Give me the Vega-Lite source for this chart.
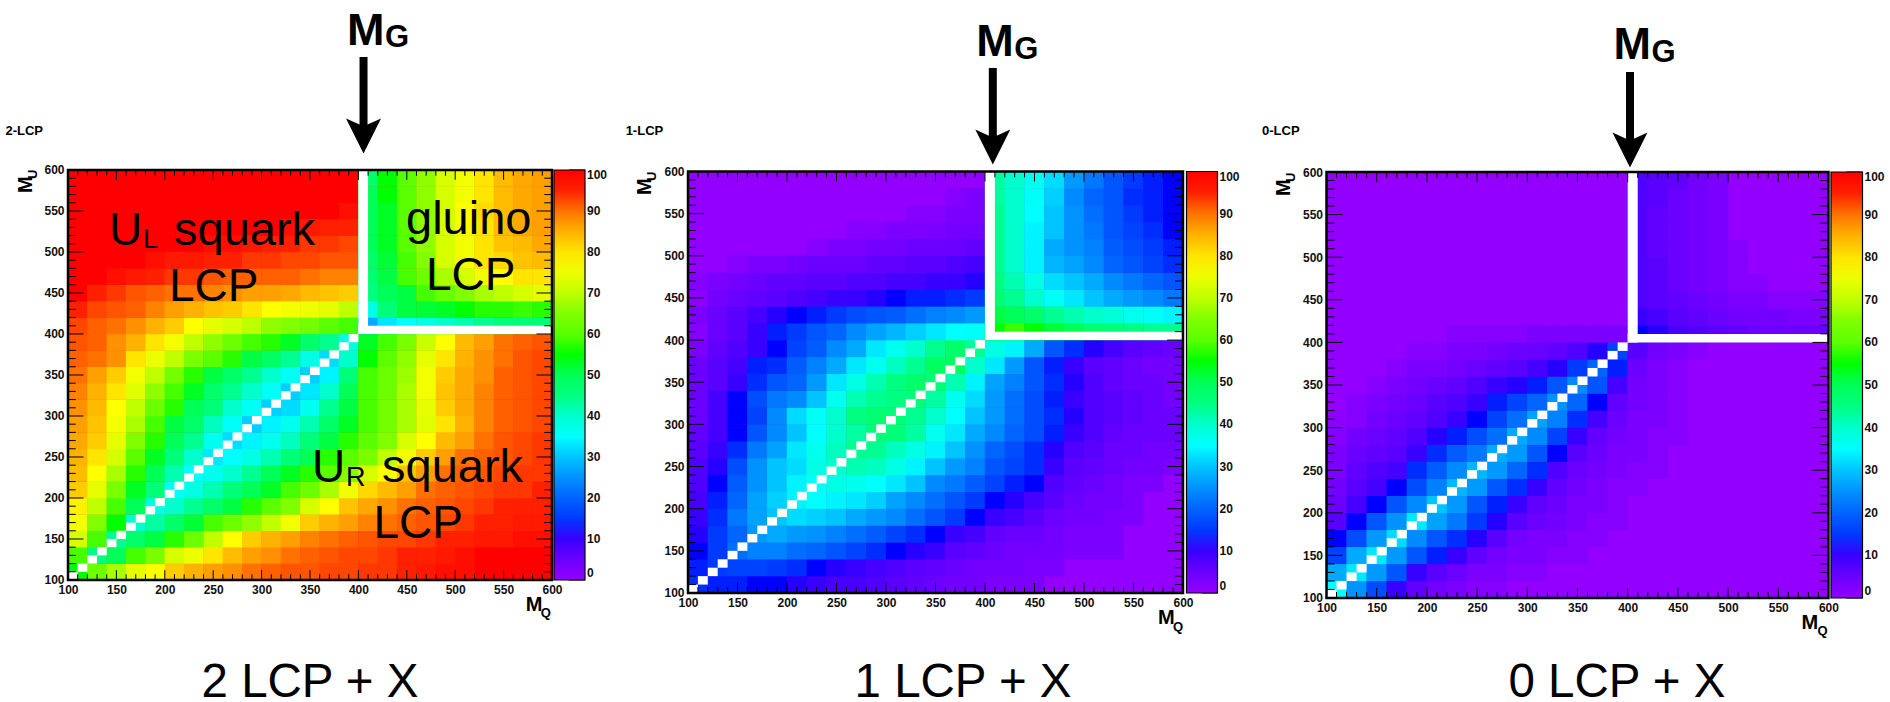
{"$schema":"https://vega.github.io/schema/vega-lite/v6.json","padding":0,"spacing":0,"background":"white",
"config":{"view":{"stroke":null},"text":{"font":"Liberation Sans","align":"left","baseline":"alphabetic","color":"black"},"axis":{"domain":false,"ticks":false,"grid":false,"labelFont":"Liberation Sans","labelFontWeight":"bold","labelFontSize":12,"labelColor":"#111","labelPadding":4,"labelOverlap":false,"labelFlush":false,"title":null},"legend":{"gradientStrokeColor":"black","gradientStrokeWidth":1.2,"labelFont":"Liberation Sans","labelFontWeight":"bold","labelFontSize":12,"labelColor":"#111","labelOverlap":false,"labelOffset":4,"title":null,"direction":"vertical","type":"gradient"}},
"resolve":{"scale":{"color":"independent"}},
"datasets":{
"ma":[100,150,200,250,300,350,400,450,500,550,600],
"mi":[110,120,130,140,160,170,180,190,210,220,230,240,260,270,280,290,310,320,330,340,360,370,380,390,410,420,430,440,460,470,480,490,510,520,530,540,560,570,580,590],
"diag":[{"q":105,"u":105},{"q":115,"u":115},{"q":125,"u":125},{"q":135,"u":135},{"q":145,"u":145},{"q":155,"u":155},{"q":165,"u":165},{"q":175,"u":175},{"q":185,"u":185},{"q":195,"u":195},{"q":205,"u":205},{"q":215,"u":215},{"q":225,"u":225},{"q":235,"u":235},{"q":245,"u":245},{"q":255,"u":255},{"q":265,"u":265},{"q":275,"u":275},{"q":285,"u":285},{"q":295,"u":295},{"q":305,"u":305},{"q":315,"u":315},{"q":325,"u":325},{"q":335,"u":335},{"q":345,"u":345},{"q":355,"u":355},{"q":365,"u":365},{"q":375,"u":375},{"q":385,"u":385},{"q":395,"u":395}],
"p1":[
{"q":110,"u":110,"v":55},{"q":130,"u":110,"v":62},{"q":150,"u":110,"v":68},{"q":170,"u":110,"v":74},{"q":190,"u":110,"v":78},{"q":210,"u":110,"v":82},{"q":230,"u":110,"v":85},{"q":250,"u":110,"v":87},{"q":270,"u":110,"v":88},{"q":290,"u":110,"v":90},{"q":310,"u":110,"v":91},{"q":330,"u":110,"v":92},{"q":350,"u":110,"v":92},{"q":370,"u":110,"v":93},{"q":390,"u":110,"v":93},{"q":410,"u":110,"v":94},{"q":430,"u":110,"v":94},{"q":450,"u":110,"v":95},{"q":470,"u":110,"v":96},{"q":490,"u":110,"v":97},{"q":510,"u":110,"v":97},
{"q":110,"u":130,"v":58},{"q":130,"u":130,"v":45},{"q":150,"u":130,"v":50},{"q":170,"u":130,"v":58},{"q":190,"u":130,"v":64},{"q":210,"u":130,"v":72},{"q":230,"u":130,"v":75},{"q":250,"u":130,"v":80},{"q":270,"u":130,"v":84},{"q":290,"u":130,"v":87},{"q":310,"u":130,"v":88},{"q":330,"u":130,"v":90},{"q":350,"u":130,"v":91},{"q":370,"u":130,"v":92},{"q":390,"u":130,"v":93},{"q":410,"u":130,"v":93},{"q":430,"u":130,"v":94},{"q":450,"u":130,"v":95},{"q":470,"u":130,"v":95},{"q":490,"u":130,"v":96},{"q":510,"u":130,"v":97},
{"q":110,"u":150,"v":72},{"q":130,"u":150,"v":58},{"q":150,"u":150,"v":44},{"q":170,"u":150,"v":48},{"q":190,"u":150,"v":52},{"q":210,"u":150,"v":56},{"q":230,"u":150,"v":62},{"q":250,"u":150,"v":70},{"q":270,"u":150,"v":78},{"q":290,"u":150,"v":82},{"q":310,"u":150,"v":85},{"q":330,"u":150,"v":87},{"q":350,"u":150,"v":89},{"q":370,"u":150,"v":90},{"q":390,"u":150,"v":91},{"q":410,"u":150,"v":92},{"q":430,"u":150,"v":93},{"q":450,"u":150,"v":93},{"q":470,"u":150,"v":94},{"q":490,"u":150,"v":95},{"q":510,"u":150,"v":95},{"q":530,"u":150,"v":96},{"q":550,"u":150,"v":96},{"q":570,"u":150,"v":97},{"q":590,"u":150,"v":97},
{"q":110,"u":170,"v":76},{"q":130,"u":170,"v":65},{"q":150,"u":170,"v":55},{"q":170,"u":170,"v":40},{"q":190,"u":170,"v":43},{"q":210,"u":170,"v":48},{"q":230,"u":170,"v":53},{"q":250,"u":170,"v":58},{"q":270,"u":170,"v":62},{"q":290,"u":170,"v":66},{"q":310,"u":170,"v":70},{"q":330,"u":170,"v":76},{"q":350,"u":170,"v":82},{"q":370,"u":170,"v":85},{"q":390,"u":170,"v":87},{"q":410,"u":170,"v":89},{"q":430,"u":170,"v":90},{"q":450,"u":170,"v":91},{"q":470,"u":170,"v":92},{"q":490,"u":170,"v":93},{"q":510,"u":170,"v":94},{"q":530,"u":170,"v":95},{"q":550,"u":170,"v":95},{"q":570,"u":170,"v":96},{"q":590,"u":170,"v":96},
{"q":110,"u":190,"v":79},{"q":130,"u":190,"v":70},{"q":150,"u":190,"v":58},{"q":170,"u":190,"v":50},{"q":190,"u":190,"v":38},{"q":210,"u":190,"v":40},{"q":230,"u":190,"v":44},{"q":250,"u":190,"v":48},{"q":270,"u":190,"v":52},{"q":290,"u":190,"v":56},{"q":310,"u":190,"v":60},{"q":330,"u":190,"v":65},{"q":350,"u":190,"v":72},{"q":370,"u":190,"v":78},{"q":390,"u":190,"v":83},{"q":410,"u":190,"v":86},{"q":430,"u":190,"v":88},{"q":450,"u":190,"v":90},{"q":470,"u":190,"v":91},{"q":490,"u":190,"v":92},{"q":510,"u":190,"v":93},{"q":530,"u":190,"v":94},{"q":550,"u":190,"v":95},{"q":570,"u":190,"v":95},{"q":590,"u":190,"v":95},
{"q":110,"u":210,"v":82},{"q":130,"u":210,"v":74},{"q":150,"u":210,"v":64},{"q":170,"u":210,"v":54},{"q":190,"u":210,"v":46},{"q":210,"u":210,"v":36},{"q":230,"u":210,"v":38},{"q":250,"u":210,"v":42},{"q":270,"u":210,"v":46},{"q":290,"u":210,"v":50},{"q":310,"u":210,"v":54},{"q":330,"u":210,"v":58},{"q":350,"u":210,"v":62},{"q":370,"u":210,"v":68},{"q":390,"u":210,"v":76},{"q":410,"u":210,"v":81},{"q":430,"u":210,"v":84},{"q":450,"u":210,"v":87},{"q":470,"u":210,"v":90},{"q":490,"u":210,"v":91},{"q":510,"u":210,"v":92},{"q":530,"u":210,"v":93},{"q":550,"u":210,"v":94},{"q":570,"u":210,"v":94},{"q":590,"u":210,"v":95},
{"q":110,"u":230,"v":84},{"q":130,"u":230,"v":78},{"q":150,"u":230,"v":68},{"q":170,"u":230,"v":56},{"q":190,"u":230,"v":50},{"q":210,"u":230,"v":42},{"q":230,"u":230,"v":35},{"q":250,"u":230,"v":37},{"q":270,"u":230,"v":40},{"q":290,"u":230,"v":44},{"q":310,"u":230,"v":50},{"q":330,"u":230,"v":54},{"q":350,"u":230,"v":56},{"q":370,"u":230,"v":60},{"q":390,"u":230,"v":65},{"q":410,"u":230,"v":72},{"q":430,"u":230,"v":78},{"q":450,"u":230,"v":83},{"q":470,"u":230,"v":87},{"q":490,"u":230,"v":90},{"q":510,"u":230,"v":91},{"q":530,"u":230,"v":92},{"q":550,"u":230,"v":93},{"q":570,"u":230,"v":94},{"q":590,"u":230,"v":94},
{"q":110,"u":250,"v":85},{"q":130,"u":250,"v":80},{"q":150,"u":250,"v":72},{"q":170,"u":250,"v":60},{"q":190,"u":250,"v":54},{"q":210,"u":250,"v":46},{"q":230,"u":250,"v":40},{"q":250,"u":250,"v":33},{"q":270,"u":250,"v":35},{"q":290,"u":250,"v":38},{"q":310,"u":250,"v":42},{"q":330,"u":250,"v":46},{"q":350,"u":250,"v":50},{"q":370,"u":250,"v":56},{"q":390,"u":250,"v":60},{"q":410,"u":250,"v":64},{"q":430,"u":250,"v":70},{"q":450,"u":250,"v":76},{"q":470,"u":250,"v":82},{"q":490,"u":250,"v":87},{"q":510,"u":250,"v":90},{"q":530,"u":250,"v":91},{"q":550,"u":250,"v":92},{"q":570,"u":250,"v":93},{"q":590,"u":250,"v":94},
{"q":110,"u":270,"v":86},{"q":130,"u":270,"v":82},{"q":150,"u":270,"v":74},{"q":170,"u":270,"v":65},{"q":190,"u":270,"v":56},{"q":210,"u":270,"v":50},{"q":230,"u":270,"v":44},{"q":250,"u":270,"v":37},{"q":270,"u":270,"v":32},{"q":290,"u":270,"v":34},{"q":310,"u":270,"v":37},{"q":330,"u":270,"v":41},{"q":350,"u":270,"v":46},{"q":370,"u":270,"v":52},{"q":390,"u":270,"v":56},{"q":410,"u":270,"v":60},{"q":430,"u":270,"v":65},{"q":450,"u":270,"v":72},{"q":470,"u":270,"v":78},{"q":490,"u":270,"v":84},{"q":510,"u":270,"v":87},{"q":530,"u":270,"v":90},{"q":550,"u":270,"v":92},{"q":570,"u":270,"v":93},{"q":590,"u":270,"v":94},
{"q":110,"u":290,"v":87},{"q":130,"u":290,"v":83},{"q":150,"u":290,"v":76},{"q":170,"u":290,"v":68},{"q":190,"u":290,"v":58},{"q":210,"u":290,"v":52},{"q":230,"u":290,"v":48},{"q":250,"u":290,"v":41},{"q":270,"u":290,"v":36},{"q":290,"u":290,"v":31},{"q":310,"u":290,"v":34},{"q":330,"u":290,"v":37},{"q":350,"u":290,"v":42},{"q":370,"u":290,"v":48},{"q":390,"u":290,"v":54},{"q":410,"u":290,"v":58},{"q":430,"u":290,"v":63},{"q":450,"u":290,"v":68},{"q":470,"u":290,"v":73},{"q":490,"u":290,"v":80},{"q":510,"u":290,"v":85},{"q":530,"u":290,"v":89},{"q":550,"u":290,"v":91},{"q":570,"u":290,"v":92},{"q":590,"u":290,"v":93},
{"q":110,"u":310,"v":88},{"q":130,"u":310,"v":84},{"q":150,"u":310,"v":78},{"q":170,"u":310,"v":70},{"q":190,"u":310,"v":62},{"q":210,"u":310,"v":56},{"q":230,"u":310,"v":50},{"q":250,"u":310,"v":46},{"q":270,"u":310,"v":40},{"q":290,"u":310,"v":36},{"q":310,"u":310,"v":31},{"q":330,"u":310,"v":32},{"q":350,"u":310,"v":37},{"q":370,"u":310,"v":44},{"q":390,"u":310,"v":52},{"q":410,"u":310,"v":58},{"q":430,"u":310,"v":63},{"q":450,"u":310,"v":68},{"q":470,"u":310,"v":74},{"q":490,"u":310,"v":82},{"q":510,"u":310,"v":86},{"q":530,"u":310,"v":89},{"q":550,"u":310,"v":91},{"q":570,"u":310,"v":92},{"q":590,"u":310,"v":93},
{"q":110,"u":330,"v":89},{"q":130,"u":330,"v":85},{"q":150,"u":330,"v":80},{"q":170,"u":330,"v":73},{"q":190,"u":330,"v":66},{"q":210,"u":330,"v":58},{"q":230,"u":330,"v":54},{"q":250,"u":330,"v":48},{"q":270,"u":330,"v":44},{"q":290,"u":330,"v":40},{"q":310,"u":330,"v":36},{"q":330,"u":330,"v":31},{"q":350,"u":330,"v":33},{"q":370,"u":330,"v":40},{"q":390,"u":330,"v":50},{"q":410,"u":330,"v":58},{"q":430,"u":330,"v":62},{"q":450,"u":330,"v":68},{"q":470,"u":330,"v":76},{"q":490,"u":330,"v":83},{"q":510,"u":330,"v":86},{"q":530,"u":330,"v":89},{"q":550,"u":330,"v":91},{"q":570,"u":330,"v":92},{"q":590,"u":330,"v":93},
{"q":110,"u":350,"v":90},{"q":130,"u":350,"v":87},{"q":150,"u":350,"v":82},{"q":170,"u":350,"v":76},{"q":190,"u":350,"v":70},{"q":210,"u":350,"v":63},{"q":230,"u":350,"v":56},{"q":250,"u":350,"v":52},{"q":270,"u":350,"v":48},{"q":290,"u":350,"v":44},{"q":310,"u":350,"v":40},{"q":330,"u":350,"v":36},{"q":350,"u":350,"v":31},{"q":370,"u":350,"v":34},{"q":390,"u":350,"v":46},{"q":410,"u":350,"v":58},{"q":430,"u":350,"v":62},{"q":450,"u":350,"v":67},{"q":470,"u":350,"v":76},{"q":490,"u":350,"v":82},{"q":510,"u":350,"v":86},{"q":530,"u":350,"v":88},{"q":550,"u":350,"v":91},{"q":570,"u":350,"v":92},{"q":590,"u":350,"v":93},
{"q":110,"u":370,"v":91},{"q":130,"u":370,"v":90},{"q":150,"u":370,"v":88},{"q":170,"u":370,"v":80},{"q":190,"u":370,"v":75},{"q":210,"u":370,"v":70},{"q":230,"u":370,"v":64},{"q":250,"u":370,"v":60},{"q":270,"u":370,"v":56},{"q":290,"u":370,"v":52},{"q":310,"u":370,"v":49},{"q":330,"u":370,"v":44},{"q":350,"u":370,"v":38},{"q":370,"u":370,"v":32},{"q":390,"u":370,"v":40},{"q":410,"u":370,"v":55},{"q":430,"u":370,"v":60},{"q":450,"u":370,"v":66},{"q":470,"u":370,"v":74},{"q":490,"u":370,"v":80},{"q":510,"u":370,"v":85},{"q":530,"u":370,"v":88},{"q":550,"u":370,"v":90},{"q":570,"u":370,"v":92},{"q":590,"u":370,"v":93},
{"q":110,"u":390,"v":92},{"q":130,"u":390,"v":91},{"q":150,"u":390,"v":88},{"q":170,"u":390,"v":85},{"q":190,"u":390,"v":80},{"q":210,"u":390,"v":76},{"q":230,"u":390,"v":70},{"q":250,"u":390,"v":66},{"q":270,"u":390,"v":62},{"q":290,"u":390,"v":58},{"q":310,"u":390,"v":56},{"q":330,"u":390,"v":54},{"q":350,"u":390,"v":48},{"q":370,"u":390,"v":44},{"q":390,"u":390,"v":38},{"q":410,"u":390,"v":54},{"q":430,"u":390,"v":58},{"q":450,"u":390,"v":64},{"q":470,"u":390,"v":71},{"q":490,"u":390,"v":78},{"q":510,"u":390,"v":84},{"q":530,"u":390,"v":87},{"q":550,"u":390,"v":90},{"q":570,"u":390,"v":91},{"q":590,"u":390,"v":92},
{"q":110,"u":410,"v":93},{"q":130,"u":410,"v":91},{"q":150,"u":410,"v":90},{"q":170,"u":410,"v":88},{"q":190,"u":410,"v":85},{"q":210,"u":410,"v":82},{"q":230,"u":410,"v":78},{"q":250,"u":410,"v":74},{"q":270,"u":410,"v":72},{"q":290,"u":410,"v":70},{"q":310,"u":410,"v":66},{"q":330,"u":410,"v":65},{"q":350,"u":410,"v":63},{"q":370,"u":410,"v":60},{"q":390,"u":410,"v":58},{"q":410,"u":410,"v":28},{"q":430,"u":410,"v":33},{"q":450,"u":410,"v":35},{"q":470,"u":410,"v":38},{"q":490,"u":410,"v":40},{"q":510,"u":410,"v":42},{"q":530,"u":410,"v":44},{"q":550,"u":410,"v":46},{"q":570,"u":410,"v":46},{"q":590,"u":410,"v":46},
{"q":110,"u":430,"v":95},{"q":130,"u":430,"v":93},{"q":150,"u":430,"v":92},{"q":170,"u":430,"v":91},{"q":190,"u":430,"v":89},{"q":210,"u":430,"v":87},{"q":230,"u":430,"v":85},{"q":250,"u":430,"v":83},{"q":270,"u":430,"v":82},{"q":290,"u":430,"v":80},{"q":310,"u":430,"v":78},{"q":330,"u":430,"v":76},{"q":350,"u":430,"v":75},{"q":370,"u":430,"v":74},{"q":390,"u":430,"v":70},{"q":410,"u":430,"v":38},{"q":430,"u":430,"v":46},{"q":450,"u":430,"v":52},{"q":470,"u":430,"v":53},{"q":490,"u":430,"v":54},{"q":510,"u":430,"v":55},{"q":530,"u":430,"v":56},{"q":550,"u":430,"v":56},{"q":570,"u":430,"v":57},{"q":590,"u":430,"v":56},
{"q":110,"u":450,"v":98},{"q":130,"u":450,"v":95},{"q":150,"u":450,"v":94},{"q":170,"u":450,"v":92},{"q":190,"u":450,"v":91},{"q":210,"u":450,"v":90},{"q":230,"u":450,"v":90},{"q":250,"u":450,"v":89},{"q":270,"u":450,"v":88},{"q":290,"u":450,"v":87},{"q":310,"u":450,"v":87},{"q":330,"u":450,"v":86},{"q":350,"u":450,"v":84},{"q":370,"u":450,"v":83},{"q":390,"u":450,"v":82},{"q":410,"u":450,"v":45},{"q":430,"u":450,"v":50},{"q":450,"u":450,"v":52},{"q":470,"u":450,"v":58},{"q":490,"u":450,"v":62},{"q":510,"u":450,"v":65},{"q":530,"u":450,"v":68},{"q":550,"u":450,"v":70},{"q":570,"u":450,"v":72},{"q":590,"u":450,"v":74},
{"q":130,"u":470,"v":98},{"q":150,"u":470,"v":97},{"q":170,"u":470,"v":96},{"q":190,"u":470,"v":95},{"q":210,"u":470,"v":94},{"q":230,"u":470,"v":94},{"q":250,"u":470,"v":92},{"q":270,"u":470,"v":91},{"q":290,"u":470,"v":91},{"q":310,"u":470,"v":91},{"q":330,"u":470,"v":91},{"q":350,"u":470,"v":90},{"q":370,"u":470,"v":89},{"q":390,"u":470,"v":89},{"q":410,"u":470,"v":47},{"q":430,"u":470,"v":52},{"q":450,"u":470,"v":58},{"q":470,"u":470,"v":62},{"q":490,"u":470,"v":68},{"q":510,"u":470,"v":72},{"q":530,"u":470,"v":76},{"q":550,"u":470,"v":78},{"q":570,"u":470,"v":80},{"q":590,"u":470,"v":80},
{"q":170,"u":490,"v":98},{"q":190,"u":490,"v":97},{"q":210,"u":490,"v":96},{"q":230,"u":490,"v":96},{"q":250,"u":490,"v":95},{"q":270,"u":490,"v":95},{"q":290,"u":490,"v":94},{"q":310,"u":490,"v":94},{"q":330,"u":490,"v":93},{"q":350,"u":490,"v":93},{"q":370,"u":490,"v":92},{"q":390,"u":490,"v":92},{"q":410,"u":490,"v":48},{"q":430,"u":490,"v":53},{"q":450,"u":490,"v":58},{"q":470,"u":490,"v":65},{"q":490,"u":490,"v":72},{"q":510,"u":490,"v":76},{"q":530,"u":490,"v":80},{"q":550,"u":490,"v":81},{"q":570,"u":490,"v":83},{"q":590,"u":490,"v":84},
{"q":230,"u":510,"v":98},{"q":250,"u":510,"v":97},{"q":270,"u":510,"v":97},{"q":290,"u":510,"v":96},{"q":310,"u":510,"v":95},{"q":330,"u":510,"v":95},{"q":350,"u":510,"v":94},{"q":370,"u":510,"v":94},{"q":390,"u":510,"v":93},{"q":410,"u":510,"v":50},{"q":430,"u":510,"v":54},{"q":450,"u":510,"v":60},{"q":470,"u":510,"v":66},{"q":490,"u":510,"v":72},{"q":510,"u":510,"v":76},{"q":530,"u":510,"v":80},{"q":550,"u":510,"v":83},{"q":570,"u":510,"v":84},{"q":590,"u":510,"v":86},
{"q":310,"u":530,"v":98},{"q":330,"u":530,"v":97},{"q":350,"u":530,"v":96},{"q":370,"u":530,"v":95},{"q":390,"u":530,"v":95},{"q":410,"u":530,"v":50},{"q":430,"u":530,"v":54},{"q":450,"u":530,"v":60},{"q":470,"u":530,"v":66},{"q":490,"u":530,"v":72},{"q":510,"u":530,"v":77},{"q":530,"u":530,"v":80},{"q":550,"u":530,"v":84},{"q":570,"u":530,"v":86},{"q":590,"u":530,"v":87},
{"q":370,"u":550,"v":98},{"q":390,"u":550,"v":97},{"q":410,"u":550,"v":50},{"q":430,"u":550,"v":54},{"q":450,"u":550,"v":60},{"q":470,"u":550,"v":66},{"q":490,"u":550,"v":72},{"q":510,"u":550,"v":78},{"q":530,"u":550,"v":81},{"q":550,"u":550,"v":84},{"q":570,"u":550,"v":86},{"q":590,"u":550,"v":87},
{"q":390,"u":570,"v":98},{"q":410,"u":570,"v":50},{"q":430,"u":570,"v":55},{"q":450,"u":570,"v":60},{"q":470,"u":570,"v":66},{"q":490,"u":570,"v":72},{"q":510,"u":570,"v":76},{"q":530,"u":570,"v":80},{"q":550,"u":570,"v":84},{"q":570,"u":570,"v":86},{"q":590,"u":570,"v":87},
{"q":410,"u":590,"v":48},{"q":430,"u":590,"v":55},{"q":450,"u":590,"v":60},{"q":470,"u":590,"v":66},{"q":490,"u":590,"v":72},{"q":510,"u":590,"v":76},{"q":530,"u":590,"v":80},{"q":550,"u":590,"v":84},{"q":570,"u":590,"v":86},{"q":590,"u":590,"v":87}],
"p2":[
{"q":110,"u":110,"v":14},{"q":130,"u":110,"v":13},{"q":150,"u":110,"v":13},{"q":170,"u":110,"v":12},{"q":190,"u":110,"v":12},{"q":210,"u":110,"v":11},{"q":230,"u":110,"v":10},{"q":250,"u":110,"v":9},{"q":270,"u":110,"v":9},{"q":290,"u":110,"v":8},{"q":310,"u":110,"v":7},{"q":330,"u":110,"v":6},{"q":350,"u":110,"v":5},{"q":370,"u":110,"v":4},{"q":390,"u":110,"v":4},{"q":410,"u":110,"v":3},{"q":430,"u":110,"v":3},{"q":450,"u":110,"v":3},
{"q":110,"u":130,"v":13},{"q":130,"u":130,"v":15},{"q":150,"u":130,"v":16},{"q":170,"u":130,"v":16},{"q":190,"u":130,"v":15},{"q":210,"u":130,"v":14},{"q":230,"u":130,"v":12},{"q":250,"u":130,"v":11},{"q":270,"u":130,"v":10},{"q":290,"u":130,"v":9},{"q":310,"u":130,"v":8},{"q":330,"u":130,"v":7},{"q":350,"u":130,"v":6},{"q":370,"u":130,"v":5},{"q":390,"u":130,"v":4},{"q":410,"u":130,"v":4},{"q":430,"u":130,"v":4},{"q":450,"u":130,"v":3},{"q":470,"u":130,"v":3},
{"q":110,"u":150,"v":12},{"q":130,"u":150,"v":15},{"q":150,"u":150,"v":21},{"q":170,"u":150,"v":23},{"q":190,"u":150,"v":23},{"q":210,"u":150,"v":21},{"q":230,"u":150,"v":20},{"q":250,"u":150,"v":18},{"q":270,"u":150,"v":16},{"q":290,"u":150,"v":14},{"q":310,"u":150,"v":12},{"q":330,"u":150,"v":11},{"q":350,"u":150,"v":10},{"q":370,"u":150,"v":7},{"q":390,"u":150,"v":6},{"q":410,"u":150,"v":5},{"q":430,"u":150,"v":4},{"q":450,"u":150,"v":4},{"q":470,"u":150,"v":4},{"q":490,"u":150,"v":3},{"q":510,"u":150,"v":3},{"q":530,"u":150,"v":3},
{"q":110,"u":170,"v":11},{"q":130,"u":170,"v":15},{"q":150,"u":170,"v":20},{"q":170,"u":170,"v":26},{"q":190,"u":170,"v":28},{"q":210,"u":170,"v":26},{"q":230,"u":170,"v":25},{"q":250,"u":170,"v":23},{"q":270,"u":170,"v":21},{"q":290,"u":170,"v":19},{"q":310,"u":170,"v":16},{"q":330,"u":170,"v":14},{"q":350,"u":170,"v":12},{"q":370,"u":170,"v":10},{"q":390,"u":170,"v":9},{"q":410,"u":170,"v":6},{"q":430,"u":170,"v":5},{"q":450,"u":170,"v":5},{"q":470,"u":170,"v":4},{"q":490,"u":170,"v":3},{"q":510,"u":170,"v":3},{"q":530,"u":170,"v":3},
{"q":110,"u":190,"v":10},{"q":130,"u":190,"v":14},{"q":150,"u":190,"v":22},{"q":170,"u":190,"v":27},{"q":190,"u":190,"v":30},{"q":210,"u":190,"v":32},{"q":230,"u":190,"v":31},{"q":250,"u":190,"v":30},{"q":270,"u":190,"v":28},{"q":290,"u":190,"v":26},{"q":310,"u":190,"v":24},{"q":330,"u":190,"v":21},{"q":350,"u":190,"v":18},{"q":370,"u":190,"v":15},{"q":390,"u":190,"v":12},{"q":410,"u":190,"v":10},{"q":430,"u":190,"v":9},{"q":450,"u":190,"v":7},{"q":470,"u":190,"v":5},{"q":490,"u":190,"v":4},{"q":510,"u":190,"v":4},{"q":530,"u":190,"v":3},{"q":550,"u":190,"v":3},
{"q":110,"u":210,"v":9},{"q":130,"u":210,"v":13},{"q":150,"u":210,"v":20},{"q":170,"u":210,"v":27},{"q":190,"u":210,"v":31},{"q":210,"u":210,"v":34},{"q":230,"u":210,"v":35},{"q":250,"u":210,"v":34},{"q":270,"u":210,"v":33},{"q":290,"u":210,"v":31},{"q":310,"u":210,"v":27},{"q":330,"u":210,"v":24},{"q":350,"u":210,"v":21},{"q":370,"u":210,"v":18},{"q":390,"u":210,"v":15},{"q":410,"u":210,"v":12},{"q":430,"u":210,"v":11},{"q":450,"u":210,"v":9},{"q":470,"u":210,"v":7},{"q":490,"u":210,"v":5},{"q":510,"u":210,"v":4},{"q":530,"u":210,"v":4},{"q":550,"u":210,"v":3},
{"q":110,"u":230,"v":8},{"q":130,"u":230,"v":12},{"q":150,"u":230,"v":19},{"q":170,"u":230,"v":25},{"q":190,"u":230,"v":30},{"q":210,"u":230,"v":34},{"q":230,"u":230,"v":36},{"q":250,"u":230,"v":38},{"q":270,"u":230,"v":37},{"q":290,"u":230,"v":35},{"q":310,"u":230,"v":33},{"q":330,"u":230,"v":30},{"q":350,"u":230,"v":24},{"q":370,"u":230,"v":22},{"q":390,"u":230,"v":19},{"q":410,"u":230,"v":16},{"q":430,"u":230,"v":13},{"q":450,"u":230,"v":12},{"q":470,"u":230,"v":8},{"q":490,"u":230,"v":6},{"q":510,"u":230,"v":5},{"q":530,"u":230,"v":4},{"q":550,"u":230,"v":3},{"q":570,"u":230,"v":3},
{"q":110,"u":250,"v":8},{"q":130,"u":250,"v":11},{"q":150,"u":250,"v":17},{"q":170,"u":250,"v":25},{"q":190,"u":250,"v":30},{"q":210,"u":250,"v":32},{"q":230,"u":250,"v":38},{"q":250,"u":250,"v":40},{"q":270,"u":250,"v":42},{"q":290,"u":250,"v":41},{"q":310,"u":250,"v":38},{"q":330,"u":250,"v":34},{"q":350,"u":250,"v":30},{"q":370,"u":250,"v":26},{"q":390,"u":250,"v":23},{"q":410,"u":250,"v":18},{"q":430,"u":250,"v":16},{"q":450,"u":250,"v":14},{"q":470,"u":250,"v":10},{"q":490,"u":250,"v":7},{"q":510,"u":250,"v":6},{"q":530,"u":250,"v":5},{"q":550,"u":250,"v":4},{"q":570,"u":250,"v":4},{"q":590,"u":250,"v":3},
{"q":110,"u":270,"v":7},{"q":130,"u":270,"v":10},{"q":150,"u":270,"v":14},{"q":170,"u":270,"v":22},{"q":190,"u":270,"v":27},{"q":210,"u":270,"v":33},{"q":230,"u":270,"v":37},{"q":250,"u":270,"v":41},{"q":270,"u":270,"v":44},{"q":290,"u":270,"v":44},{"q":310,"u":270,"v":41},{"q":330,"u":270,"v":38},{"q":350,"u":270,"v":34},{"q":370,"u":270,"v":30},{"q":390,"u":270,"v":25},{"q":410,"u":270,"v":20},{"q":430,"u":270,"v":17},{"q":450,"u":270,"v":14},{"q":470,"u":270,"v":11},{"q":490,"u":270,"v":8},{"q":510,"u":270,"v":7},{"q":530,"u":270,"v":5},{"q":550,"u":270,"v":5},{"q":570,"u":270,"v":4},{"q":590,"u":270,"v":4},
{"q":110,"u":290,"v":6},{"q":130,"u":290,"v":9},{"q":150,"u":290,"v":12},{"q":170,"u":290,"v":18},{"q":190,"u":290,"v":24},{"q":210,"u":290,"v":30},{"q":230,"u":290,"v":35},{"q":250,"u":290,"v":40},{"q":270,"u":290,"v":43},{"q":290,"u":290,"v":46},{"q":310,"u":290,"v":46},{"q":330,"u":290,"v":43},{"q":350,"u":290,"v":37},{"q":370,"u":290,"v":33},{"q":390,"u":290,"v":28},{"q":410,"u":290,"v":24},{"q":430,"u":290,"v":20},{"q":450,"u":290,"v":17},{"q":470,"u":290,"v":13},{"q":490,"u":290,"v":10},{"q":510,"u":290,"v":8},{"q":530,"u":290,"v":6},{"q":550,"u":290,"v":5},{"q":570,"u":290,"v":5},{"q":590,"u":290,"v":5},
{"q":110,"u":310,"v":5},{"q":130,"u":310,"v":9},{"q":150,"u":310,"v":12},{"q":170,"u":310,"v":16},{"q":190,"u":310,"v":24},{"q":210,"u":310,"v":32},{"q":230,"u":310,"v":36},{"q":250,"u":310,"v":40},{"q":270,"u":310,"v":45},{"q":290,"u":310,"v":47},{"q":310,"u":310,"v":46},{"q":330,"u":310,"v":44},{"q":350,"u":310,"v":40},{"q":370,"u":310,"v":35},{"q":390,"u":310,"v":30},{"q":410,"u":310,"v":26},{"q":430,"u":310,"v":21},{"q":450,"u":310,"v":17},{"q":470,"u":310,"v":14},{"q":490,"u":310,"v":11},{"q":510,"u":310,"v":8},{"q":530,"u":310,"v":7},{"q":550,"u":310,"v":6},{"q":570,"u":310,"v":5},{"q":590,"u":310,"v":5},
{"q":110,"u":330,"v":5},{"q":130,"u":330,"v":9},{"q":150,"u":330,"v":12},{"q":170,"u":330,"v":17},{"q":190,"u":330,"v":22},{"q":210,"u":330,"v":24},{"q":230,"u":330,"v":30},{"q":250,"u":330,"v":37},{"q":270,"u":330,"v":42},{"q":290,"u":330,"v":44},{"q":310,"u":330,"v":45},{"q":330,"u":330,"v":46},{"q":350,"u":330,"v":43},{"q":370,"u":330,"v":37},{"q":390,"u":330,"v":32},{"q":410,"u":330,"v":26},{"q":430,"u":330,"v":21},{"q":450,"u":330,"v":17},{"q":470,"u":330,"v":13},{"q":490,"u":330,"v":10},{"q":510,"u":330,"v":8},{"q":530,"u":330,"v":7},{"q":550,"u":330,"v":6},{"q":570,"u":330,"v":5},{"q":590,"u":330,"v":4},
{"q":110,"u":350,"v":5},{"q":130,"u":350,"v":7},{"q":150,"u":350,"v":10},{"q":170,"u":350,"v":14},{"q":190,"u":350,"v":18},{"q":210,"u":350,"v":20},{"q":230,"u":350,"v":26},{"q":250,"u":350,"v":33},{"q":270,"u":350,"v":38},{"q":290,"u":350,"v":42},{"q":310,"u":350,"v":45},{"q":330,"u":350,"v":48},{"q":350,"u":350,"v":46},{"q":370,"u":350,"v":42},{"q":390,"u":350,"v":34},{"q":410,"u":350,"v":27},{"q":430,"u":350,"v":23},{"q":450,"u":350,"v":18},{"q":470,"u":350,"v":14},{"q":490,"u":350,"v":11},{"q":510,"u":350,"v":8},{"q":530,"u":350,"v":6},{"q":550,"u":350,"v":5},{"q":570,"u":350,"v":5},{"q":590,"u":350,"v":4},
{"q":110,"u":370,"v":5},{"q":130,"u":370,"v":7},{"q":150,"u":370,"v":9},{"q":170,"u":370,"v":13},{"q":190,"u":370,"v":14},{"q":210,"u":370,"v":19},{"q":230,"u":370,"v":23},{"q":250,"u":370,"v":28},{"q":270,"u":370,"v":33},{"q":290,"u":370,"v":37},{"q":310,"u":370,"v":41},{"q":330,"u":370,"v":44},{"q":350,"u":370,"v":49},{"q":370,"u":370,"v":49},{"q":390,"u":370,"v":40},{"q":410,"u":370,"v":33},{"q":430,"u":370,"v":26},{"q":450,"u":370,"v":18},{"q":470,"u":370,"v":13},{"q":490,"u":370,"v":10},{"q":510,"u":370,"v":7},{"q":530,"u":370,"v":6},{"q":550,"u":370,"v":5},{"q":570,"u":370,"v":4},{"q":590,"u":370,"v":4},
{"q":110,"u":390,"v":3},{"q":130,"u":390,"v":6},{"q":150,"u":390,"v":8},{"q":170,"u":390,"v":10},{"q":190,"u":390,"v":12},{"q":210,"u":390,"v":16},{"q":230,"u":390,"v":19},{"q":250,"u":390,"v":24},{"q":270,"u":390,"v":28},{"q":290,"u":390,"v":33},{"q":310,"u":390,"v":37},{"q":330,"u":390,"v":40},{"q":350,"u":390,"v":44},{"q":370,"u":390,"v":48},{"q":390,"u":390,"v":44},{"q":410,"u":390,"v":38},{"q":430,"u":390,"v":34},{"q":450,"u":390,"v":28},{"q":470,"u":390,"v":18},{"q":490,"u":390,"v":14},{"q":510,"u":390,"v":11},{"q":530,"u":390,"v":9},{"q":550,"u":390,"v":7},{"q":570,"u":390,"v":6},{"q":590,"u":390,"v":5},
{"q":110,"u":410,"v":2},{"q":130,"u":410,"v":5},{"q":150,"u":410,"v":7},{"q":170,"u":410,"v":10},{"q":190,"u":410,"v":13},{"q":210,"u":410,"v":15},{"q":230,"u":410,"v":18},{"q":250,"u":410,"v":20},{"q":270,"u":410,"v":24},{"q":290,"u":410,"v":27},{"q":310,"u":410,"v":29},{"q":330,"u":410,"v":31},{"q":350,"u":410,"v":33},{"q":370,"u":410,"v":35},{"q":390,"u":410,"v":36},{"q":410,"u":410,"v":55},{"q":430,"u":410,"v":57},{"q":450,"u":410,"v":55},{"q":470,"u":410,"v":53},{"q":490,"u":410,"v":50},{"q":510,"u":410,"v":47},{"q":530,"u":410,"v":46},{"q":550,"u":410,"v":45},{"q":570,"u":410,"v":44},{"q":590,"u":410,"v":44},
{"q":110,"u":430,"v":3},{"q":130,"u":430,"v":5},{"q":150,"u":430,"v":7},{"q":170,"u":430,"v":9},{"q":190,"u":430,"v":11},{"q":210,"u":430,"v":12},{"q":230,"u":430,"v":13},{"q":250,"u":430,"v":15},{"q":270,"u":430,"v":17},{"q":290,"u":430,"v":18},{"q":310,"u":430,"v":19},{"q":330,"u":430,"v":21},{"q":350,"u":430,"v":23},{"q":370,"u":430,"v":24},{"q":390,"u":430,"v":26},{"q":410,"u":430,"v":52},{"q":430,"u":430,"v":50},{"q":450,"u":430,"v":48},{"q":470,"u":430,"v":44},{"q":490,"u":430,"v":42},{"q":510,"u":430,"v":40},{"q":530,"u":430,"v":39},{"q":550,"u":430,"v":37},{"q":570,"u":430,"v":36},{"q":590,"u":430,"v":34},
{"q":110,"u":450,"v":1},{"q":130,"u":450,"v":4},{"q":150,"u":450,"v":5},{"q":170,"u":450,"v":6},{"q":190,"u":450,"v":7},{"q":210,"u":450,"v":8},{"q":230,"u":450,"v":9},{"q":250,"u":450,"v":10},{"q":270,"u":450,"v":10},{"q":290,"u":450,"v":11},{"q":310,"u":450,"v":12},{"q":330,"u":450,"v":13},{"q":350,"u":450,"v":13},{"q":370,"u":450,"v":14},{"q":390,"u":450,"v":15},{"q":410,"u":450,"v":47},{"q":430,"u":450,"v":44},{"q":450,"u":450,"v":40},{"q":470,"u":450,"v":36},{"q":490,"u":450,"v":33},{"q":510,"u":450,"v":30},{"q":530,"u":450,"v":28},{"q":550,"u":450,"v":26},{"q":570,"u":450,"v":24},{"q":590,"u":450,"v":22},
{"q":110,"u":470,"v":2},{"q":130,"u":470,"v":3},{"q":150,"u":470,"v":4},{"q":170,"u":470,"v":5},{"q":190,"u":470,"v":6},{"q":210,"u":470,"v":6},{"q":230,"u":470,"v":7},{"q":250,"u":470,"v":7},{"q":270,"u":470,"v":8},{"q":290,"u":470,"v":8},{"q":310,"u":470,"v":9},{"q":330,"u":470,"v":9},{"q":350,"u":470,"v":10},{"q":370,"u":470,"v":10},{"q":390,"u":470,"v":11},{"q":410,"u":470,"v":45},{"q":430,"u":470,"v":42},{"q":450,"u":470,"v":38},{"q":470,"u":470,"v":32},{"q":490,"u":470,"v":30},{"q":510,"u":470,"v":28},{"q":530,"u":470,"v":24},{"q":550,"u":470,"v":22},{"q":570,"u":470,"v":20},{"q":590,"u":470,"v":18},
{"q":150,"u":490,"v":2},{"q":170,"u":490,"v":3},{"q":190,"u":490,"v":3},{"q":210,"u":490,"v":4},{"q":230,"u":490,"v":5},{"q":250,"u":490,"v":5},{"q":270,"u":490,"v":5},{"q":290,"u":490,"v":6},{"q":310,"u":490,"v":6},{"q":330,"u":490,"v":7},{"q":350,"u":490,"v":7},{"q":370,"u":490,"v":8},{"q":390,"u":490,"v":9},{"q":410,"u":490,"v":44},{"q":430,"u":490,"v":40},{"q":450,"u":490,"v":34},{"q":470,"u":490,"v":29},{"q":490,"u":490,"v":27},{"q":510,"u":490,"v":24},{"q":530,"u":490,"v":20},{"q":550,"u":490,"v":18},{"q":570,"u":490,"v":16},{"q":590,"u":490,"v":14},
{"q":230,"u":510,"v":2},{"q":250,"u":510,"v":3},{"q":270,"u":510,"v":3},{"q":290,"u":510,"v":4},{"q":310,"u":510,"v":4},{"q":330,"u":510,"v":5},{"q":350,"u":510,"v":5},{"q":370,"u":510,"v":5},{"q":390,"u":510,"v":6},{"q":410,"u":510,"v":44},{"q":430,"u":510,"v":40},{"q":450,"u":510,"v":34},{"q":470,"u":510,"v":28},{"q":490,"u":510,"v":25},{"q":510,"u":510,"v":23},{"q":530,"u":510,"v":19},{"q":550,"u":510,"v":17},{"q":570,"u":510,"v":15},{"q":590,"u":510,"v":13},
{"q":270,"u":530,"v":2},{"q":290,"u":530,"v":2},{"q":310,"u":530,"v":3},{"q":330,"u":530,"v":3},{"q":350,"u":530,"v":3},{"q":370,"u":530,"v":4},{"q":390,"u":530,"v":4},{"q":410,"u":530,"v":44},{"q":430,"u":530,"v":40},{"q":450,"u":530,"v":34},{"q":470,"u":530,"v":30},{"q":490,"u":530,"v":25},{"q":510,"u":530,"v":22},{"q":530,"u":530,"v":18},{"q":550,"u":530,"v":16},{"q":570,"u":530,"v":14},{"q":590,"u":530,"v":12},
{"q":330,"u":550,"v":2},{"q":350,"u":550,"v":2},{"q":370,"u":550,"v":3},{"q":390,"u":550,"v":3},{"q":410,"u":550,"v":44},{"q":430,"u":550,"v":40},{"q":450,"u":550,"v":35},{"q":470,"u":550,"v":30},{"q":490,"u":550,"v":25},{"q":510,"u":550,"v":21},{"q":530,"u":550,"v":18},{"q":550,"u":550,"v":15},{"q":570,"u":550,"v":13},{"q":590,"u":550,"v":12},
{"q":370,"u":570,"v":2},{"q":390,"u":570,"v":3},{"q":410,"u":570,"v":43},{"q":430,"u":570,"v":40},{"q":450,"u":570,"v":36},{"q":470,"u":570,"v":31},{"q":490,"u":570,"v":24},{"q":510,"u":570,"v":20},{"q":530,"u":570,"v":18},{"q":550,"u":570,"v":14},{"q":570,"u":570,"v":13},{"q":590,"u":570,"v":12},
{"q":410,"u":590,"v":43},{"q":430,"u":590,"v":40},{"q":450,"u":590,"v":37},{"q":470,"u":590,"v":32},{"q":490,"u":590,"v":26},{"q":510,"u":590,"v":22},{"q":530,"u":590,"v":18},{"q":550,"u":590,"v":15},{"q":570,"u":590,"v":13},{"q":590,"u":590,"v":12}],
"p3":[
{"q":110,"u":110,"v":35},{"q":130,"u":110,"v":25},{"q":150,"u":110,"v":17},{"q":170,"u":110,"v":10},{"q":190,"u":110,"v":6},{"q":210,"u":110,"v":4},{"q":230,"u":110,"v":3},{"q":250,"u":110,"v":2},{"q":270,"u":110,"v":2},
{"q":110,"u":130,"v":28},{"q":130,"u":130,"v":33},{"q":150,"u":130,"v":26},{"q":170,"u":130,"v":18},{"q":190,"u":130,"v":10},{"q":210,"u":130,"v":7},{"q":230,"u":130,"v":5},{"q":250,"u":130,"v":3},{"q":270,"u":130,"v":3},{"q":290,"u":130,"v":2},{"q":310,"u":130,"v":2},
{"q":110,"u":150,"v":16},{"q":130,"u":150,"v":28},{"q":150,"u":150,"v":33},{"q":170,"u":150,"v":26},{"q":190,"u":150,"v":18},{"q":210,"u":150,"v":13},{"q":230,"u":150,"v":10},{"q":250,"u":150,"v":6},{"q":270,"u":150,"v":4},{"q":290,"u":150,"v":3},{"q":310,"u":150,"v":3},{"q":330,"u":150,"v":2},{"q":350,"u":150,"v":2},
{"q":110,"u":170,"v":12},{"q":130,"u":170,"v":17},{"q":150,"u":170,"v":26},{"q":170,"u":170,"v":32},{"q":190,"u":170,"v":24},{"q":210,"u":170,"v":18},{"q":230,"u":170,"v":14},{"q":250,"u":170,"v":11},{"q":270,"u":170,"v":7},{"q":290,"u":170,"v":4},{"q":310,"u":170,"v":3},{"q":330,"u":170,"v":3},{"q":350,"u":170,"v":2},{"q":370,"u":170,"v":2},
{"q":110,"u":190,"v":7},{"q":130,"u":190,"v":12},{"q":150,"u":190,"v":18},{"q":170,"u":190,"v":25},{"q":190,"u":190,"v":33},{"q":210,"u":190,"v":27},{"q":230,"u":190,"v":22},{"q":250,"u":190,"v":15},{"q":270,"u":190,"v":11},{"q":290,"u":190,"v":7},{"q":310,"u":190,"v":5},{"q":330,"u":190,"v":4},{"q":350,"u":190,"v":3},{"q":370,"u":190,"v":2},{"q":390,"u":190,"v":2},
{"q":110,"u":210,"v":5},{"q":130,"u":210,"v":9},{"q":150,"u":210,"v":12},{"q":170,"u":210,"v":18},{"q":190,"u":210,"v":24},{"q":210,"u":210,"v":30},{"q":230,"u":210,"v":26},{"q":250,"u":210,"v":18},{"q":270,"u":210,"v":13},{"q":290,"u":210,"v":10},{"q":310,"u":210,"v":6},{"q":330,"u":210,"v":5},{"q":350,"u":210,"v":3},{"q":370,"u":210,"v":3},{"q":390,"u":210,"v":2},
{"q":110,"u":230,"v":4},{"q":130,"u":230,"v":7},{"q":150,"u":230,"v":9},{"q":170,"u":230,"v":12},{"q":190,"u":230,"v":17},{"q":210,"u":230,"v":23},{"q":230,"u":230,"v":29},{"q":250,"u":230,"v":26},{"q":270,"u":230,"v":18},{"q":290,"u":230,"v":14},{"q":310,"u":230,"v":10},{"q":330,"u":230,"v":6},{"q":350,"u":230,"v":4},{"q":370,"u":230,"v":3},{"q":390,"u":230,"v":2},{"q":410,"u":230,"v":2},
{"q":110,"u":250,"v":3},{"q":130,"u":250,"v":6},{"q":150,"u":250,"v":8},{"q":170,"u":250,"v":9},{"q":190,"u":250,"v":14},{"q":210,"u":250,"v":19},{"q":230,"u":250,"v":24},{"q":250,"u":250,"v":29},{"q":270,"u":250,"v":26},{"q":290,"u":250,"v":20},{"q":310,"u":250,"v":14},{"q":330,"u":250,"v":8},{"q":350,"u":250,"v":5},{"q":370,"u":250,"v":4},{"q":390,"u":250,"v":3},{"q":410,"u":250,"v":2},{"q":430,"u":250,"v":2},
{"q":110,"u":270,"v":3},{"q":130,"u":270,"v":5},{"q":150,"u":270,"v":6},{"q":170,"u":270,"v":7},{"q":190,"u":270,"v":10},{"q":210,"u":270,"v":14},{"q":230,"u":270,"v":19},{"q":250,"u":270,"v":22},{"q":270,"u":270,"v":28},{"q":290,"u":270,"v":26},{"q":310,"u":270,"v":18},{"q":330,"u":270,"v":12},{"q":350,"u":270,"v":7},{"q":370,"u":270,"v":5},{"q":390,"u":270,"v":3},{"q":410,"u":270,"v":3},{"q":430,"u":270,"v":2},
{"q":110,"u":290,"v":2},{"q":130,"u":290,"v":4},{"q":150,"u":290,"v":5},{"q":170,"u":290,"v":6},{"q":190,"u":290,"v":8},{"q":210,"u":290,"v":11},{"q":230,"u":290,"v":13},{"q":250,"u":290,"v":17},{"q":270,"u":290,"v":21},{"q":290,"u":290,"v":28},{"q":310,"u":290,"v":24},{"q":330,"u":290,"v":16},{"q":350,"u":290,"v":10},{"q":370,"u":290,"v":6},{"q":390,"u":290,"v":4},{"q":410,"u":290,"v":3},{"q":430,"u":290,"v":2},{"q":450,"u":290,"v":2},
{"q":110,"u":310,"v":1},{"q":130,"u":310,"v":2},{"q":150,"u":310,"v":4},{"q":170,"u":310,"v":5},{"q":190,"u":310,"v":6},{"q":210,"u":310,"v":8},{"q":230,"u":310,"v":10},{"q":250,"u":310,"v":12},{"q":270,"u":310,"v":16},{"q":290,"u":310,"v":21},{"q":310,"u":310,"v":27},{"q":330,"u":310,"v":23},{"q":350,"u":310,"v":14},{"q":370,"u":310,"v":9},{"q":390,"u":310,"v":5},{"q":410,"u":310,"v":3},{"q":430,"u":310,"v":3},{"q":450,"u":310,"v":2},
{"q":130,"u":330,"v":2},{"q":150,"u":330,"v":3},{"q":170,"u":330,"v":4},{"q":190,"u":330,"v":5},{"q":210,"u":330,"v":7},{"q":230,"u":330,"v":8},{"q":250,"u":330,"v":10},{"q":270,"u":330,"v":13},{"q":290,"u":330,"v":16},{"q":310,"u":330,"v":20},{"q":330,"u":330,"v":25},{"q":350,"u":330,"v":20},{"q":370,"u":330,"v":12},{"q":390,"u":330,"v":6},{"q":410,"u":330,"v":4},{"q":430,"u":330,"v":3},{"q":450,"u":330,"v":2},
{"q":150,"u":350,"v":2},{"q":170,"u":350,"v":3},{"q":190,"u":350,"v":4},{"q":210,"u":350,"v":5},{"q":230,"u":350,"v":6},{"q":250,"u":350,"v":8},{"q":270,"u":350,"v":10},{"q":290,"u":350,"v":11},{"q":310,"u":350,"v":13},{"q":330,"u":350,"v":18},{"q":350,"u":350,"v":24},{"q":370,"u":350,"v":18},{"q":390,"u":350,"v":9},{"q":410,"u":350,"v":4},{"q":430,"u":350,"v":3},{"q":450,"u":350,"v":2},
{"q":170,"u":370,"v":2},{"q":190,"u":370,"v":3},{"q":210,"u":370,"v":3},{"q":230,"u":370,"v":4},{"q":250,"u":370,"v":5},{"q":270,"u":370,"v":6},{"q":290,"u":370,"v":7},{"q":310,"u":370,"v":9},{"q":330,"u":370,"v":11},{"q":350,"u":370,"v":15},{"q":370,"u":370,"v":20},{"q":390,"u":370,"v":13},{"q":410,"u":370,"v":5},{"q":430,"u":370,"v":3},{"q":450,"u":370,"v":2},
{"q":190,"u":390,"v":2},{"q":210,"u":390,"v":2},{"q":230,"u":390,"v":3},{"q":250,"u":390,"v":3},{"q":270,"u":390,"v":4},{"q":290,"u":390,"v":5},{"q":310,"u":390,"v":5},{"q":330,"u":390,"v":6},{"q":350,"u":390,"v":8},{"q":370,"u":390,"v":11},{"q":390,"u":390,"v":16},{"q":410,"u":390,"v":7},{"q":430,"u":390,"v":4},{"q":450,"u":390,"v":3},{"q":470,"u":390,"v":2},
{"q":230,"u":410,"v":2},{"q":250,"u":410,"v":2},{"q":270,"u":410,"v":2},{"q":290,"u":410,"v":2},{"q":310,"u":410,"v":3},{"q":330,"u":410,"v":3},{"q":350,"u":410,"v":3},{"q":370,"u":410,"v":3},{"q":390,"u":410,"v":3},{"q":410,"u":410,"v":12},{"q":430,"u":410,"v":11},{"q":450,"u":410,"v":9},{"q":470,"u":410,"v":8},{"q":490,"u":410,"v":7},{"q":510,"u":410,"v":6},{"q":530,"u":410,"v":5},{"q":550,"u":410,"v":5},{"q":570,"u":410,"v":5},{"q":590,"u":410,"v":5},
{"q":410,"u":430,"v":10},{"q":430,"u":430,"v":9},{"q":450,"u":430,"v":7},{"q":470,"u":430,"v":6},{"q":490,"u":430,"v":5},{"q":510,"u":430,"v":4},{"q":530,"u":430,"v":4},{"q":550,"u":430,"v":4},{"q":570,"u":430,"v":3},{"q":590,"u":430,"v":3},
{"q":410,"u":450,"v":8},{"q":430,"u":450,"v":7},{"q":450,"u":450,"v":6},{"q":470,"u":450,"v":5},{"q":490,"u":450,"v":4},{"q":510,"u":450,"v":3},{"q":530,"u":450,"v":3},{"q":550,"u":450,"v":2},{"q":570,"u":450,"v":2},{"q":590,"u":450,"v":2},
{"q":410,"u":470,"v":8},{"q":430,"u":470,"v":7},{"q":450,"u":470,"v":5},{"q":470,"u":470,"v":4},{"q":490,"u":470,"v":3},{"q":510,"u":470,"v":2},{"q":530,"u":470,"v":2},
{"q":410,"u":490,"v":8},{"q":430,"u":490,"v":7},{"q":450,"u":490,"v":5},{"q":470,"u":490,"v":4},{"q":490,"u":490,"v":3},{"q":510,"u":490,"v":2},
{"q":410,"u":510,"v":8},{"q":430,"u":510,"v":6},{"q":450,"u":510,"v":5},{"q":470,"u":510,"v":4},{"q":490,"u":510,"v":3},{"q":510,"u":510,"v":2},
{"q":410,"u":530,"v":8},{"q":430,"u":530,"v":6},{"q":450,"u":530,"v":5},{"q":470,"u":530,"v":4},{"q":490,"u":530,"v":3},
{"q":410,"u":550,"v":8},{"q":430,"u":550,"v":6},{"q":450,"u":550,"v":5},{"q":470,"u":550,"v":4},{"q":490,"u":550,"v":3},
{"q":410,"u":570,"v":8},{"q":430,"u":570,"v":7},{"q":450,"u":570,"v":5},{"q":470,"u":570,"v":4},{"q":490,"u":570,"v":3},
{"q":410,"u":590,"v":8},{"q":430,"u":590,"v":7},{"q":450,"u":590,"v":6},{"q":470,"u":590,"v":4},{"q":490,"u":590,"v":3}]
},
"hconcat":[
{"width":620,"height":702,"data":{"values":[{}]},"layer":[
{"mark":{"type":"rect","color":"#ff0000"},"encoding":{"x":{"datum":100},"x2":{"datum":600},"y":{"datum":100},"y2":{"datum":600}}},
{"data":{"name":"p1"},"mark":{"type":"rect","width":19.8,"height":16.8},"encoding":{"x":{"field":"q","type":"quantitative","scale":{"domain":[29.75,670.25],"nice":false,"zero":false},"axis":{"values":[100,150,200,250,300,350,400,450,500,550,600],"offset":-122,"title":null}},"y":{"field":"u","type":"quantitative","scale":{"domain":[-48.8,807.3],"nice":false,"zero":false},"axis":{"values":[100,150,200,250,300,350,400,450,500,550,600],"offset":-68,"title":null}},"color":{"field":"v","type":"quantitative","scale":{"domain":[0,5,12,20,28,35,45,55,65,73,78,82,87,91,95,98,100],"range":["#9400ff","#6a00ff","#0000ff","#0064ff","#00aaff","#00ffff","#00ff80","#00ff00","#80ff00","#e0ff00","#ffff00","#ffcc00","#ffa000","#ff6000","#ff2000","#ff0000","#ff0000"]},"legend":{"orient":"none","legendX":554,"legendY":170,"gradientLength":410,"gradientThickness":31,"values":[0,10,20,30,40,50,60,70,80,90,100]}}}},
{"data":{"name":"diag"},"mark":{"type":"rect","color":"white","width":9.7,"height":8.2},"encoding":{"x":{"field":"q","type":"quantitative"},"y":{"field":"u","type":"quantitative"}}},
{"mark":{"type":"rect","color":"white"},"encoding":{"x":{"datum":400},"x2":{"datum":410},"y":{"datum":400},"y2":{"datum":600}}},
{"mark":{"type":"rect","color":"white"},"encoding":{"x":{"datum":400},"x2":{"datum":600},"y":{"datum":400},"y2":{"datum":410}}},
{"data":{"name":"ma"},"mark":{"type":"rule","color":"black"},"encoding":{"x":{"field":"data","type":"quantitative"},"y":{"datum":100},"y2":{"datum":112}}},
{"data":{"name":"ma"},"mark":{"type":"rule","color":"black"},"encoding":{"x":{"field":"data","type":"quantitative"},"y":{"datum":600},"y2":{"datum":588}}},
{"data":{"name":"ma"},"mark":{"type":"rule","color":"black"},"encoding":{"y":{"field":"data","type":"quantitative"},"x":{"datum":100},"x2":{"datum":116}}},
{"data":{"name":"ma"},"mark":{"type":"rule","color":"black"},"encoding":{"y":{"field":"data","type":"quantitative"},"x":{"datum":600},"x2":{"datum":584}}},
{"data":{"name":"mi"},"mark":{"type":"rule","color":"black"},"encoding":{"x":{"field":"data","type":"quantitative"},"y":{"datum":100},"y2":{"datum":107}}},
{"data":{"name":"mi"},"mark":{"type":"rule","color":"black"},"encoding":{"x":{"field":"data","type":"quantitative"},"y":{"datum":600},"y2":{"datum":593}}},
{"data":{"name":"mi"},"mark":{"type":"rule","color":"black"},"encoding":{"y":{"field":"data","type":"quantitative"},"x":{"datum":100},"x2":{"datum":108}}},
{"data":{"name":"mi"},"mark":{"type":"rule","color":"black"},"encoding":{"y":{"field":"data","type":"quantitative"},"x":{"datum":600},"x2":{"datum":592}}},
{"data":{"name":"ma"},"mark":{"type":"rule","color":"black"},"encoding":{"y":{"field":"data","type":"quantitative"},"x":{"datum":617.6},"x2":{"datum":634.1}}},
{"mark":{"type":"rect","fillOpacity":0,"stroke":"black","strokeWidth":2.5},"encoding":{"x":{"datum":100},"x2":{"datum":600},"y":{"datum":100},"y2":{"datum":600}}},
{"mark":{"type":"rule","color":"black","strokeWidth":8},"encoding":{"x":{"datum":405.3},"y":{"datum":737.8},"y2":{"datum":648.8}}},
{"mark":{"type":"point","filled":true,"opacity":1,"color":"black","size":1225,"shape":"M0,1L-1,-1L0,-0.55L1,-1Z"},"encoding":{"x":{"datum":405.3},"y":{"datum":641.5}}},
{"mark":{"type":"text","text":"2-LCP","fontSize":13,"fontWeight":"bold","baseline":"middle"},"encoding":{"x":{"datum":35.4},"y":{"datum":647.6}}},
{"mark":{"type":"text","text":"M","fontSize":45,"fontWeight":"bold"},"encoding":{"x":{"datum":388.2},"y":{"datum":752.4}}},
{"mark":{"type":"text","text":"G","fontSize":31,"fontWeight":"bold"},"encoding":{"x":{"datum":427.5},"y":{"datum":749.4}}},
{"mark":{"type":"text","text":"M","fontSize":20,"fontWeight":"bold"},"encoding":{"x":{"datum":572.8},"y":{"datum":62}}},
{"mark":{"type":"text","text":"Q","fontSize":13,"fontWeight":"bold"},"encoding":{"x":{"datum":588.3},"y":{"datum":55}}},
{"mark":{"type":"text","text":"M","fontSize":20,"fontWeight":"bold","angle":270},"encoding":{"x":{"datum":62.4},"y":{"datum":572}}},
{"mark":{"type":"text","text":"U","fontSize":13,"fontWeight":"bold","angle":270},"encoding":{"x":{"datum":67.5},"y":{"datum":589}}},
{"mark":{"type":"text","text":"U","fontSize":46},"encoding":{"x":{"datum":142.4},"y":{"datum":508.5}}},
{"mark":{"type":"text","text":"L","fontSize":27},"encoding":{"x":{"datum":177.5},"y":{"datum":504.9}}},
{"mark":{"type":"text","text":"squark","fontSize":47},"encoding":{"x":{"datum":209.5},"y":{"datum":508.5}}},
{"mark":{"type":"text","text":"LCP","fontSize":46},"encoding":{"x":{"datum":204.3},"y":{"datum":440.2}}},
{"mark":{"type":"text","text":"gluino","fontSize":47},"encoding":{"x":{"datum":449.2},"y":{"datum":522}}},
{"mark":{"type":"text","text":"LCP","fontSize":46},"encoding":{"x":{"datum":469.8},"y":{"datum":453.7}}},
{"mark":{"type":"text","text":"U","fontSize":46},"encoding":{"x":{"datum":352.1},"y":{"datum":219.5}}},
{"mark":{"type":"text","text":"R","fontSize":27},"encoding":{"x":{"datum":387.2},"y":{"datum":214.6}}},
{"mark":{"type":"text","text":"squark","fontSize":47},"encoding":{"x":{"datum":424.4},"y":{"datum":219.5}}},
{"mark":{"type":"text","text":"LCP","fontSize":46},"encoding":{"x":{"datum":415.6},"y":{"datum":151.2}}},
{"mark":{"type":"text","text":"2 LCP + X","fontSize":47.5,"align":"center"},"encoding":{"x":{"datum":350},"y":{"datum":-42.7}}}
]},
{"width":630,"height":702,"data":{"values":[{}]},"layer":[
{"mark":{"type":"rect","color":"#9400ff"},"encoding":{"x":{"datum":100},"x2":{"datum":600},"y":{"datum":100},"y2":{"datum":600}}},
{"data":{"name":"p2"},"mark":{"type":"rect","width":20.2,"height":17.3},"encoding":{"x":{"field":"q","type":"quantitative","scale":{"domain":[31.3,667.7],"nice":false,"zero":false},"axis":{"values":[100,150,200,250,300,350,400,450,500,550,600],"offset":-109,"title":null}},"y":{"field":"u","type":"quantitative","scale":{"domain":[-29.3,803.4],"nice":false,"zero":false},"axis":{"values":[100,150,200,250,300,350,400,450,500,550,600],"offset":-68,"title":null}},"color":{"field":"v","type":"quantitative","scale":{"domain":[0,5,12,20,28,35,45,55,65,73,78,82,87,91,95,98,100],"range":["#9400ff","#6a00ff","#0000ff","#0064ff","#00aaff","#00ffff","#00ff80","#00ff00","#80ff00","#e0ff00","#ffff00","#ffcc00","#ffa000","#ff6000","#ff2000","#ff0000","#ff0000"]},"legend":{"orient":"none","legendX":566.5,"legendY":171.5,"gradientLength":421.5,"gradientThickness":31,"values":[0,10,20,30,40,50,60,70,80,90,100]}}}},
{"data":{"name":"diag"},"mark":{"type":"rect","color":"white","width":9.9,"height":8.43},"encoding":{"x":{"field":"q","type":"quantitative"},"y":{"field":"u","type":"quantitative"}}},
{"mark":{"type":"rect","color":"white"},"encoding":{"x":{"datum":400},"x2":{"datum":410},"y":{"datum":400},"y2":{"datum":600}}},
{"mark":{"type":"rect","color":"white"},"encoding":{"x":{"datum":400},"x2":{"datum":600},"y":{"datum":400},"y2":{"datum":410}}},
{"data":{"name":"ma"},"mark":{"type":"rule","color":"black"},"encoding":{"x":{"field":"data","type":"quantitative"},"y":{"datum":100},"y2":{"datum":112}}},
{"data":{"name":"ma"},"mark":{"type":"rule","color":"black"},"encoding":{"x":{"field":"data","type":"quantitative"},"y":{"datum":600},"y2":{"datum":588}}},
{"data":{"name":"ma"},"mark":{"type":"rule","color":"black"},"encoding":{"y":{"field":"data","type":"quantitative"},"x":{"datum":100},"x2":{"datum":116}}},
{"data":{"name":"ma"},"mark":{"type":"rule","color":"black"},"encoding":{"y":{"field":"data","type":"quantitative"},"x":{"datum":600},"x2":{"datum":584}}},
{"data":{"name":"mi"},"mark":{"type":"rule","color":"black"},"encoding":{"x":{"field":"data","type":"quantitative"},"y":{"datum":100},"y2":{"datum":107}}},
{"data":{"name":"mi"},"mark":{"type":"rule","color":"black"},"encoding":{"x":{"field":"data","type":"quantitative"},"y":{"datum":600},"y2":{"datum":593}}},
{"data":{"name":"mi"},"mark":{"type":"rule","color":"black"},"encoding":{"y":{"field":"data","type":"quantitative"},"x":{"datum":100},"x2":{"datum":108}}},
{"data":{"name":"mi"},"mark":{"type":"rule","color":"black"},"encoding":{"y":{"field":"data","type":"quantitative"},"x":{"datum":600},"x2":{"datum":592}}},
{"data":{"name":"ma"},"mark":{"type":"rule","color":"black"},"encoding":{"y":{"field":"data","type":"quantitative"},"x":{"datum":618.7},"x2":{"datum":634.9}}},
{"mark":{"type":"rect","fillOpacity":0,"stroke":"black","strokeWidth":2.5},"encoding":{"x":{"datum":100},"x2":{"datum":600},"y":{"datum":100},"y2":{"datum":600}}},
{"mark":{"type":"rule","color":"black","strokeWidth":8},"encoding":{"x":{"datum":407.9},"y":{"datum":722.8},"y2":{"datum":636}}},
{"mark":{"type":"point","filled":true,"opacity":1,"color":"black","size":1225,"shape":"M0,1L-1,-1L0,-0.55L1,-1Z"},"encoding":{"x":{"datum":407.9},"y":{"datum":629}}},
{"mark":{"type":"text","text":"1-LCP","fontSize":13,"fontWeight":"bold","baseline":"middle"},"encoding":{"x":{"datum":37},"y":{"datum":648}}},
{"mark":{"type":"text","text":"M","fontSize":45,"fontWeight":"bold"},"encoding":{"x":{"datum":391.2},"y":{"datum":737}}},
{"mark":{"type":"text","text":"G","fontSize":31,"fontWeight":"bold"},"encoding":{"x":{"datum":429.6},"y":{"datum":734}}},
{"mark":{"type":"text","text":"M","fontSize":20,"fontWeight":"bold"},"encoding":{"x":{"datum":574.7},"y":{"datum":63}}},
{"mark":{"type":"text","text":"Q","fontSize":13,"fontWeight":"bold"},"encoding":{"x":{"datum":590},"y":{"datum":55}}},
{"mark":{"type":"text","text":"M","fontSize":20,"fontWeight":"bold","angle":270},"encoding":{"x":{"datum":62.6},"y":{"datum":572}}},
{"mark":{"type":"text","text":"U","fontSize":13,"fontWeight":"bold","angle":270},"encoding":{"x":{"datum":67.7},"y":{"datum":588.7}}},
{"mark":{"type":"text","text":"1 LCP + X","fontSize":47.5,"align":"center"},"encoding":{"x":{"datum":377.8},"y":{"datum":-23.4}}}
]},
{"width":640,"height":702,"data":{"values":[{}]},"layer":[
{"mark":{"type":"rect","color":"#9400ff"},"encoding":{"x":{"datum":100},"x2":{"datum":600},"y":{"datum":100},"y2":{"datum":600}}},
{"data":{"name":"p3"},"mark":{"type":"rect","width":20.5,"height":17.5},"encoding":{"x":{"field":"q","type":"quantitative","scale":{"domain":[23.8,661.3],"nice":false,"zero":false},"axis":{"values":[100,150,200,250,300,350,400,450,500,550,600],"offset":-104,"title":null}},"y":{"field":"u","type":"quantitative","scale":{"domain":[-22.1,801.9],"nice":false,"zero":false},"axis":{"values":[100,150,200,250,300,350,400,450,500,550,600],"offset":-76.5,"title":null}},"color":{"field":"v","type":"quantitative","scale":{"domain":[0,5,12,20,28,35,45,55,65,73,78,82,87,91,95,98,100],"range":["#9400ff","#6a00ff","#0000ff","#0064ff","#00aaff","#00ffff","#00ff80","#00ff00","#80ff00","#e0ff00","#ffff00","#ffcc00","#ffa000","#ff6000","#ff2000","#ff0000","#ff0000"]},"legend":{"orient":"none","legendX":581,"legendY":172,"gradientLength":426,"gradientThickness":31.5,"values":[0,10,20,30,40,50,60,70,80,90,100]}}}},
{"data":{"name":"diag"},"mark":{"type":"rect","color":"white","width":10,"height":8.5},"encoding":{"x":{"field":"q","type":"quantitative"},"y":{"field":"u","type":"quantitative"}}},
{"mark":{"type":"rect","color":"white"},"encoding":{"x":{"datum":400},"x2":{"datum":410},"y":{"datum":400},"y2":{"datum":600}}},
{"mark":{"type":"rect","color":"white"},"encoding":{"x":{"datum":400},"x2":{"datum":600},"y":{"datum":400},"y2":{"datum":410}}},
{"data":{"name":"ma"},"mark":{"type":"rule","color":"black"},"encoding":{"x":{"field":"data","type":"quantitative"},"y":{"datum":100},"y2":{"datum":112}}},
{"data":{"name":"ma"},"mark":{"type":"rule","color":"black"},"encoding":{"x":{"field":"data","type":"quantitative"},"y":{"datum":600},"y2":{"datum":588}}},
{"data":{"name":"ma"},"mark":{"type":"rule","color":"black"},"encoding":{"y":{"field":"data","type":"quantitative"},"x":{"datum":100},"x2":{"datum":116}}},
{"data":{"name":"ma"},"mark":{"type":"rule","color":"black"},"encoding":{"y":{"field":"data","type":"quantitative"},"x":{"datum":600},"x2":{"datum":584}}},
{"data":{"name":"mi"},"mark":{"type":"rule","color":"black"},"encoding":{"x":{"field":"data","type":"quantitative"},"y":{"datum":100},"y2":{"datum":107}}},
{"data":{"name":"mi"},"mark":{"type":"rule","color":"black"},"encoding":{"x":{"field":"data","type":"quantitative"},"y":{"datum":600},"y2":{"datum":593}}},
{"data":{"name":"mi"},"mark":{"type":"rule","color":"black"},"encoding":{"y":{"field":"data","type":"quantitative"},"x":{"datum":100},"x2":{"datum":108}}},
{"data":{"name":"mi"},"mark":{"type":"rule","color":"black"},"encoding":{"y":{"field":"data","type":"quantitative"},"x":{"datum":600},"x2":{"datum":592}}},
{"data":{"name":"ma"},"mark":{"type":"rule","color":"black"},"encoding":{"y":{"field":"data","type":"quantitative"},"x":{"datum":618},"x2":{"datum":633.9}}},
{"mark":{"type":"rect","fillOpacity":0,"stroke":"black","strokeWidth":2.5},"encoding":{"x":{"datum":100},"x2":{"datum":600},"y":{"datum":100},"y2":{"datum":600}}},
{"mark":{"type":"rule","color":"black","strokeWidth":8},"encoding":{"x":{"datum":402.3},"y":{"datum":717.4},"y2":{"datum":634}}},
{"mark":{"type":"point","filled":true,"opacity":1,"color":"black","size":1225,"shape":"M0,1L-1,-1L0,-0.55L1,-1Z"},"encoding":{"x":{"datum":402.3},"y":{"datum":625.8}}},
{"mark":{"type":"text","text":"0-LCP","fontSize":13,"fontWeight":"bold","baseline":"middle"},"encoding":{"x":{"datum":35.8},"y":{"datum":648.1}}},
{"mark":{"type":"text","text":"M","fontSize":45,"fontWeight":"bold"},"encoding":{"x":{"datum":385.9},"y":{"datum":732.6}}},
{"mark":{"type":"text","text":"G","fontSize":31,"fontWeight":"bold"},"encoding":{"x":{"datum":423.7},"y":{"datum":729.7}}},
{"mark":{"type":"text","text":"M","fontSize":20,"fontWeight":"bold"},"encoding":{"x":{"datum":573.2},"y":{"datum":63.6}}},
{"mark":{"type":"text","text":"Q","fontSize":13,"fontWeight":"bold"},"encoding":{"x":{"datum":589.1},"y":{"datum":56.6}}},
{"mark":{"type":"text","text":"M","fontSize":20,"fontWeight":"bold","angle":270},"encoding":{"x":{"datum":63.6},"y":{"datum":571.8}}},
{"mark":{"type":"text","text":"U","fontSize":13,"fontWeight":"bold","angle":270},"encoding":{"x":{"datum":68.6},"y":{"datum":588.3}}},
{"mark":{"type":"text","text":"0 LCP + X","fontSize":47.5,"align":"center"},"encoding":{"x":{"datum":389.3},"y":{"datum":-16.2}}}
]}
]}
